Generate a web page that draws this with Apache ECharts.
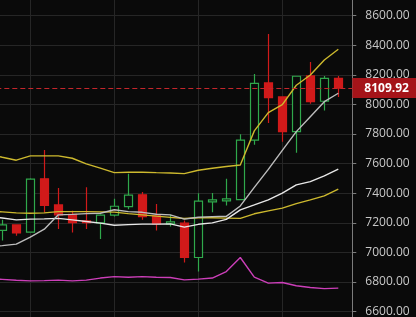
<!DOCTYPE html>
<html>
<head>
<meta charset="utf-8">
<script src="https://cdn.jsdelivr.net/npm/echarts@6/dist/echarts.min.js"></script>
<style>
html,body{margin:0;padding:0;background:#0a0a0a;}
#c{width:416px;height:317px;}
</style>
</head>
<body>
<div id="c"></div>
<script>
// categories: one hidden bar before the visible window, 25 visible bars, one empty slot
var categories = ['p','01','02','03','04','05','06','07','08','09','10','11','12','13','14','15','16','17','18','19','20','21','22','23','24','25','e'];

// visible candles: [open, close, low, high]
var candles = [
  [7149, 7186, 7080, 7220],
  [7186, 7132, 7112, 7188],
  [7137, 7495, 7135, 7501],
  [7497, 7317, 7269, 7692],
  [7321, 7254, 7159, 7436],
  [7258, 7202, 7134, 7281],
  [7213, 7202, 7159, 7441],
  [7200, 7252, 7090, 7258],
  [7252, 7312, 7242, 7362],
  [7310, 7387, 7292, 7532],
  [7389, 7242, 7220, 7409],
  [7247, 7193, 7148, 7328],
  [7193, 7207, 7175, 7254],
  [7198, 6966, 6932, 7215],
  [6966, 7346, 6871, 7400],
  [7342, 7355, 7272, 7402],
  [7348, 7362, 7317, 7497],
  [7357, 7758, 7357, 7798],
  [7758, 8142, 7728, 8205],
  [8145, 8045, 7875, 8475],
  [8050, 7816, 7748, 8050],
  [7816, 8190, 7674, 8190],
  [8192, 8018, 8005, 8286],
  [8021, 8176, 7958, 8192],
  [8176, 8109.92, 8050, 8192]
];

// indicator lines (first value belongs to the hidden bar before the window)
var upperBand = [7665, 7643, 7623, 7652, 7652, 7652, 7636, 7598, 7569, 7539, 7542, 7542, 7539, 7537, 7532, 7555, 7569, 7580, 7591, 7821, 7944, 7998, 8129, 8198, 8300, 8372];
var slowYellow = [7281, 7274, 7267, 7265, 7267, 7276, 7276, 7276, 7274, 7272, 7262, 7254, 7245, 7237, 7229, 7234, 7234, 7232, 7230, 7261, 7281, 7299, 7330, 7355, 7382, 7427];
var midWhite = [7244, 7233, 7220, 7225, 7227, 7230, 7220, 7209, 7198, 7184, 7188, 7191, 7191, 7193, 7171, 7190, 7200, 7223, 7288, 7321, 7355, 7400, 7456, 7478, 7517, 7562];
var fastGrey = [7038, 7046, 7056, 7103, 7157, 7254, 7257, 7262, 7265, 7288, 7276, 7271, 7258, 7254, 7225, 7238, 7242, 7244, 7314, 7439, 7561, 7689, 7816, 7917, 8018, 8075];
var lowerPink = [6822, 6818, 6812, 6808, 6810, 6813, 6808, 6813, 6827, 6837, 6833, 6837, 6833, 6831, 6815, 6820, 6827, 6871, 6966, 6833, 6793, 6797, 6775, 6763, 6756, 6759];

var lastPrice = 8109.92;
var yTickMin = 6400, yTickMax = 8800, yTickStep = 200;

function pad(arr) { return arr.concat(['-']); }
var candleData = [['-','-','-','-']].concat(candles.map(function (d) { return d.slice(); })).concat([['-','-','-','-']]);

var chart = echarts.init(document.getElementById('c'), null, {renderer: 'canvas'});

function lineSeries(data, color, width) {
  return {
    type: 'line', data: pad(data), symbol: 'none', smooth: false, silent: true,
    lineStyle: {color: color, width: width}, z: 3, clip: false
  };
}

chart.setOption({
  backgroundColor: '#0a0a0a',
  animation: false,
  grid: {left: -11.7, right: 63.7, top: -14.1, bottom: -24.3, containLabel: false, outerBoundsMode: 'none'},
  xAxis: {
    type: 'category', data: categories, boundaryGap: false,
    axisLine: {show: false}, axisTick: {show: false}, axisLabel: {show: false},
    splitLine: {show: true, interval: function (i) { return i % 6 === 3; },
      lineStyle: {color: '#262626', width: 1}}
  },
  yAxis: {
    type: 'value', position: 'right', min: yTickMin, max: yTickMax, interval: yTickStep,
    axisLine: {show: true, lineStyle: {color: '#7c7c7c', width: 1}},
    axisTick: {show: true, length: 4, lineStyle: {color: '#7c7c7c'}},
    axisLabel: {margin: 13, color: '#c9c9c9', fontFamily: 'Open Sans', fontSize: 12,
      formatter: function (v) { return v.toFixed(2); }},
    splitLine: {show: true, lineStyle: {color: '#262626', width: 1}}
  },
  series: [
    {
      type: 'candlestick', data: candleData, barWidth: 9, clip: false, z: 2,
      itemStyle: {
        color: '#0a0a0a', borderColor: '#2fa84b',
        color0: '#d11a1a', borderColor0: '#d11a1a', borderWidth: 1.2
      },
      markLine: {
        symbol: 'none', silent: true, animation: false,
        lineStyle: {color: '#c4262b', type: [5, 3], width: 1},
        label: {
          show: true, position: 'end', distance: 0,
          formatter: lastPrice.toFixed(2),
          backgroundColor: '#a51419', color: '#ffffff',
          fontFamily: 'Open Sans', fontWeight: 'bold', fontSize: 12,
          lineHeight: 12, padding: [4, 9, 4, 12]
        },
        data: [{yAxis: lastPrice}]
      }
    },
    lineSeries(upperBand, '#cdb92e', 1.4),
    lineSeries(slowYellow, '#cdb92e', 1.4),
    lineSeries(midWhite, '#e8e8e8', 1.4),
    lineSeries(fastGrey, '#bdbdbd', 1.4),
    lineSeries(lowerPink, '#cc3fb9', 1.4)
  ]
});
</script>
</body>
</html>
